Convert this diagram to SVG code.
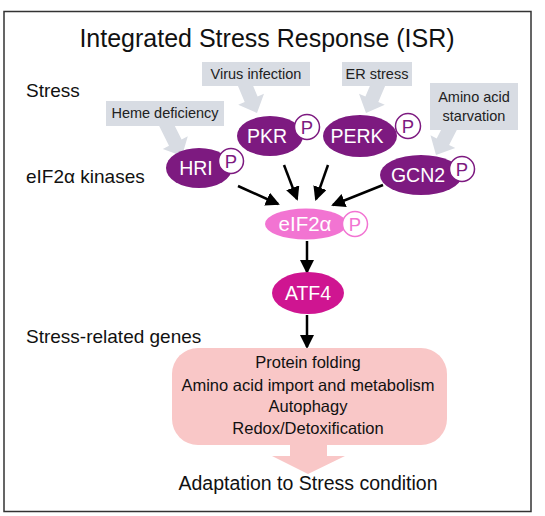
<svg xmlns="http://www.w3.org/2000/svg" width="545" height="516" viewBox="0 0 545 516">
<defs>
<style>
text{font-family:"Liberation Sans",Arial,sans-serif;}
.lbl{font-size:19px;fill:#111;}
.call{font-size:14.5px;fill:#222;text-anchor:middle;}
.cbox{fill:#d8dce3;}
.carr{fill:#d8dce3;}
.kin{fill:#7d1a80;}
.kt{font-size:19.5px;fill:#fff;text-anchor:middle;}
.pc{fill:#fff;stroke:#7d1a80;stroke-width:1.5;}
.pt{font-size:18.5px;fill:#7d1a80;text-anchor:middle;}
.conn{stroke:#000;stroke-width:2.5;fill:none;marker-end:url(#ah);}
.gene{font-size:16.5px;fill:#111;text-anchor:middle;}
</style>
<marker id="ah" markerUnits="userSpaceOnUse" markerWidth="14" markerHeight="14" viewBox="0 0 14 14" refX="12" refY="7" orient="auto">
<path d="M0,0 L14,7 L0,14 z" fill="#000"/>
</marker>
</defs>
<rect x="4" y="11.5" width="527" height="500" fill="#fff" stroke="#333" stroke-width="1.5"/>
<text x="267" y="47" font-size="25" text-anchor="middle" fill="#111">Integrated Stress Response (ISR)</text>
<text class="lbl" x="26" y="97">Stress</text>
<text class="lbl" x="26" y="183">eIF2α kinases</text>
<text class="lbl" x="26" y="343">Stress-related genes</text>

<g id="stress-arrows">
<polygon class="carr" points="156.7,121.1 169.0,145.7 162.8,148.9 182,156 187.8,136.3 181.6,139.5 169.3,114.9"/>
<polygon class="carr" points="236.6,82.7 244.7,101.9 238.2,104.7 257,113 264.0,93.7 257.6,96.5 249.5,77.3"/>
<polygon class="carr" points="373.6,77.3 365.4,96.5 359.0,93.7 366,113 384.8,104.7 378.3,101.9 386.5,82.7"/>
<polygon class="carr" points="458.2,127.2 449.1,144.9 455.3,148.1 436,155 430.5,135.3 436.7,138.5 445.8,120.8"/>
</g>

<g id="heme">
<rect class="cbox" x="106" y="101" width="118" height="25"/>
<text class="call" x="165" y="118">Heme deficiency</text>
</g>
<g id="virus">
<rect class="cbox" x="202" y="62" width="108" height="24"/>
<text class="call" x="256" y="79">Virus infection</text>
</g>
<g id="er">
<rect class="cbox" x="342" y="62" width="70" height="24"/>
<text class="call" x="377" y="79">ER stress</text>
</g>
<g id="amino">
<rect class="cbox" x="430" y="83" width="88" height="47"/>
<text class="call" x="474" y="102">Amino acid</text>
<text class="call" x="474" y="121">starvation</text>
</g>

<g id="connectors">
<line class="conn" x1="238" y1="186" x2="278" y2="204"/>
<line class="conn" x1="284" y1="165" x2="297" y2="199"/>
<line class="conn" x1="328" y1="165" x2="316" y2="199"/>
<line class="conn" x1="383" y1="185" x2="333" y2="205"/>
<line class="conn" x1="307" y1="241" x2="307" y2="272"/>
<line class="conn" x1="307" y1="315" x2="307" y2="347"/>
</g>

<g id="HRI">
<ellipse class="kin" cx="199" cy="168" rx="33" ry="20"/>
<text class="kt" x="196" y="175">HRI</text>
<circle class="pc" cx="231" cy="161" r="12.5"/>
<text class="pt" x="231" y="167.5">P</text>
</g>
<g id="PKR">
<ellipse class="kin" cx="270" cy="136" rx="33" ry="20"/>
<text class="kt" x="267" y="143">PKR</text>
<circle class="pc" cx="307" cy="127" r="12.5"/>
<text class="pt" x="307" y="133.5">P</text>
</g>
<g id="PERK">
<ellipse class="kin" cx="360" cy="136" rx="37" ry="21"/>
<text class="kt" x="357" y="143">PERK</text>
<circle class="pc" cx="408" cy="126" r="12.5"/>
<text class="pt" x="408" y="132.5">P</text>
</g>
<g id="GCN2">
<ellipse class="kin" cx="421" cy="175" rx="41" ry="20"/>
<text class="kt" x="418" y="182">GCN2</text>
<circle class="pc" cx="462" cy="169" r="12.5"/>
<text class="pt" x="462" y="175.5">P</text>
</g>
<g id="eIF2a">
<ellipse cx="306" cy="224" rx="41" ry="15.5" fill="#f274d2"/>
<text x="305" y="231" font-size="20.5" fill="#fff" text-anchor="middle">eIF2α</text>
<circle cx="355" cy="224" r="12.5" fill="#fff" stroke="#f274d2" stroke-width="1.5"/>
<text x="355" y="230.5" font-size="18.5" fill="#f274d2" text-anchor="middle">P</text>
</g>
<g id="ATF4">
<ellipse cx="308" cy="293" rx="36" ry="21" fill="#cf1591"/>
<text class="kt" x="308" y="300">ATF4</text>
</g>
<g id="genes">
<polygon points="290,440 327,440 327,456 345,456 308,474 272,456 290,456" fill="#f9c7c7"/>
<rect x="172" y="348" width="275" height="97" rx="26" ry="26" fill="#f9c7c7"/>
<text class="gene" x="308" y="368">Protein folding</text>
<text class="gene" x="308" y="391">Amino acid import and metabolism</text>
<text class="gene" x="308" y="412">Autophagy</text>
<text class="gene" x="308" y="434">Redox/Detoxification</text>
</g>
<text x="308" y="490" font-size="19.5" fill="#111" text-anchor="middle">Adaptation to Stress condition</text>
</svg>
